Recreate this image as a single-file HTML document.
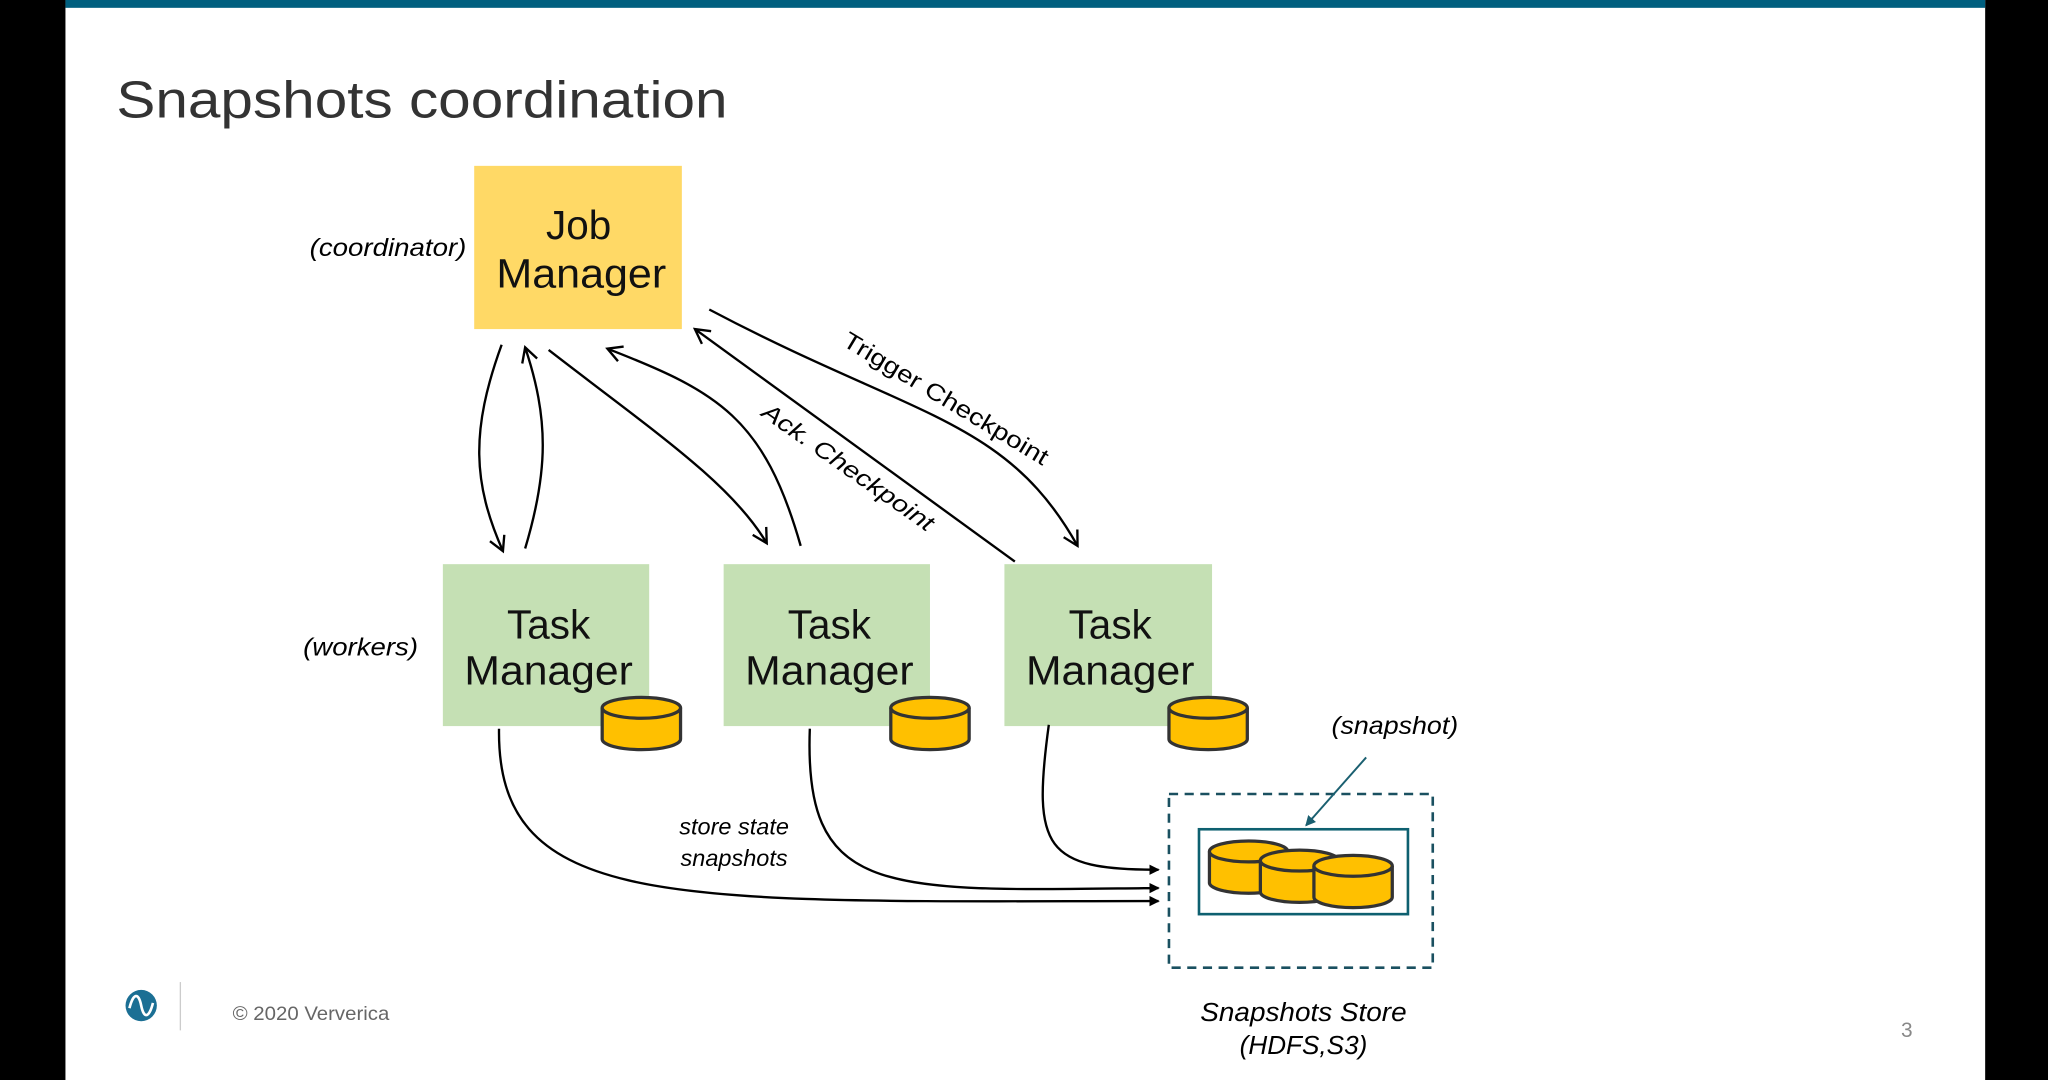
<!DOCTYPE html>
<html><head><meta charset="utf-8"><style>
html,body{margin:0;padding:0;background:#000;}
svg{display:block}
</style></head><body>
<svg width="2048" height="1080" viewBox="0 0 1568 827" xmlns="http://www.w3.org/2000/svg" font-family="Liberation Sans, DejaVu Sans, sans-serif">
<defs>
<marker id="ah" markerWidth="14" markerHeight="14" refX="12" refY="7" orient="auto" markerUnits="userSpaceOnUse">
<path d="M1,1 L12,7 L1,13" fill="none" stroke="#000" stroke-width="1.8"/>
</marker>
<marker id="sa" markerWidth="8" markerHeight="8" refX="7" refY="4" orient="auto" markerUnits="userSpaceOnUse">
<path d="M0,0 L8,4 L0,8 z" fill="#000"/>
</marker>
<marker id="ta" markerWidth="8" markerHeight="8" refX="7" refY="4" orient="auto" markerUnits="userSpaceOnUse">
<path d="M0,0 L8,4 L0,8 z" fill="#1a5f70"/>
</marker>
<g id="cyl">
<path d="M0,9 L0,33 A30,8 0 0 0 60,33 L60,9" fill="#ffc000" stroke="#333" stroke-width="2.5"/>
<ellipse cx="30" cy="9" rx="30" ry="8" fill="#ffc000" stroke="#333" stroke-width="2.5"/>
</g>
</defs>
<rect x="0" y="0" width="1568" height="827" fill="#000"/>
<rect x="50" y="0" width="1470" height="827" fill="#fff"/>
<rect x="50" y="0" width="1470" height="6" fill="#005f7f"/>
<text x="89" y="90" font-size="40" fill="#333" textLength="468" lengthAdjust="spacingAndGlyphs">Snapshots coordination</text>

<rect x="363" y="127" width="159" height="125" fill="#ffd966"/>
<text x="443" y="183" font-size="31" text-anchor="middle" fill="#111">Job</text>
<text x="445" y="220" font-size="31" text-anchor="middle" fill="#111" textLength="130" lengthAdjust="spacingAndGlyphs">Manager</text>
<text x="297" y="196" font-size="19" font-style="italic" text-anchor="middle" textLength="120" lengthAdjust="spacingAndGlyphs">(coordinator)</text>

<g font-size="31" text-anchor="middle" fill="#111">
<rect x="339" y="432" width="158" height="124" fill="#c5e0b4"/>
<rect x="554" y="432" width="158" height="124" fill="#c5e0b4"/>
<rect x="769" y="432" width="159" height="124" fill="#c5e0b4"/>
<text x="420" y="489">Task</text><text x="420" y="524" textLength="129" lengthAdjust="spacingAndGlyphs">Manager</text>
<text x="635" y="489">Task</text><text x="635" y="524" textLength="129" lengthAdjust="spacingAndGlyphs">Manager</text>
<text x="850" y="489">Task</text><text x="850" y="524" textLength="129" lengthAdjust="spacingAndGlyphs">Manager</text>
</g>
<text x="276" y="502" font-size="19" font-style="italic" text-anchor="middle" textLength="88" lengthAdjust="spacingAndGlyphs">(workers)</text>
<use href="#cyl" x="461" y="533"/>
<use href="#cyl" x="682" y="533"/>
<use href="#cyl" x="895" y="533"/>

<g fill="none" stroke="#000" stroke-width="1.8" marker-end="url(#ah)">
<path d="M384,264 C360,330 362,370 385,422"/>
<path d="M402,420 C420,360 420,320 402,266"/>
<path d="M420,268 C500,330 560,370 587,416"/>
<path d="M613,418 C585,320 550,300 465,267"/>
<path d="M777,430 L532,252"/>
<path d="M543,237 C700,320 770,320 825,418"/>
</g>
<text font-size="18" font-style="italic" transform="translate(582,318) rotate(35)" textLength="156" lengthAdjust="spacingAndGlyphs">Ack. Checkpoint</text>
<text font-size="18" transform="translate(644,264) rotate(31)" textLength="180" lengthAdjust="spacingAndGlyphs">Trigger Checkpoint</text>

<g fill="none" stroke="#000" stroke-width="1.8" marker-end="url(#sa)">
<path d="M382,558 C380,700 520,690 887,690"/>
<path d="M620,558 C615,690 680,682 887,680"/>
<path d="M803,555 C790,650 800,666 887,666"/>
</g>
<text x="562" y="639" font-size="18" font-style="italic" text-anchor="middle">store state</text>
<text x="562" y="663" font-size="18" font-style="italic" text-anchor="middle">snapshots</text>

<rect x="895" y="608" width="202" height="133" fill="none" stroke="#1a5060" stroke-width="2" stroke-dasharray="7,5"/>
<rect x="918" y="635" width="160" height="65" fill="none" stroke="#0e6070" stroke-width="2"/>
<use href="#cyl" x="926" y="643"/>
<use href="#cyl" x="965" y="650"/>
<use href="#cyl" x="1006" y="654"/>
<text x="1068" y="562" font-size="19" font-style="italic" text-anchor="middle" textLength="97" lengthAdjust="spacingAndGlyphs">(snapshot)</text>
<path d="M1046,580 L1000,632" stroke="#1a5f70" stroke-width="1.5" fill="none" marker-end="url(#ta)"/>
<text x="998" y="782" font-size="20" font-style="italic" text-anchor="middle" textLength="158" lengthAdjust="spacingAndGlyphs">Snapshots Store</text>
<text x="998" y="807" font-size="20" font-style="italic" text-anchor="middle">(HDFS,S3)</text>

<circle cx="108" cy="770" r="12" fill="#1b6f94"/>
<path d="M99,772 C102,760 106,760 108,770 C110,780 114,780 117,768" stroke="#fff" stroke-width="2" fill="none"/>
<line x1="138" y1="752" x2="138" y2="789" stroke="#ccc" stroke-width="1"/>
<text x="178" y="781" font-size="15" fill="#666" textLength="120" lengthAdjust="spacingAndGlyphs">© 2020 Ververica</text>
<text x="1460" y="794" font-size="16" fill="#888" text-anchor="middle">3</text>
</svg>
</body></html>
